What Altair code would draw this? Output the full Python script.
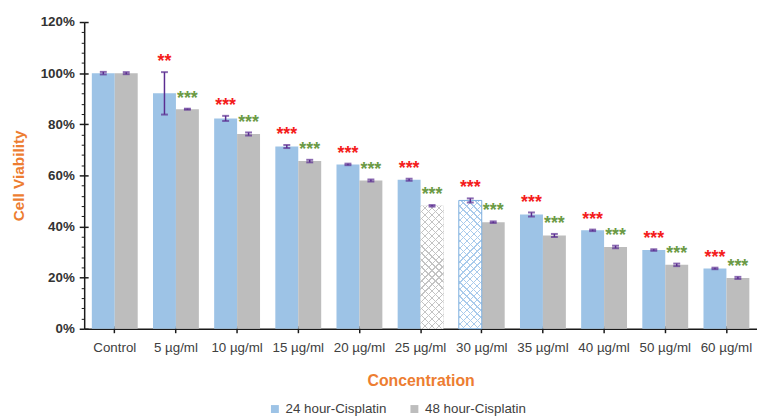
import math
import altair as alt
import pandas as pd

CATS = ["Control", "5 µg/ml", "10 µg/ml", "15 µg/ml", "20 µg/ml", "25 µg/ml",
        "30 µg/ml", "35 µg/ml", "40 µg/ml", "50 µg/ml", "60 µg/ml"]
SERIES = ["24 hour-Cisplatin", "48 hour-Cisplatin"]
V24 = [100.0, 92.1, 82.3, 71.3, 64.3, 58.3, 50.2, 44.7, 38.5, 30.8, 23.6]
E24 = [0.5, 8.3, 1.0, 0.6, 0.3, 0.4, 0.8, 0.8, 0.3, 0.3, 0.3]
V48 = [100.0, 85.9, 76.2, 65.6, 58.0, 48.1, 41.7, 36.5, 32.0, 25.0, 19.9]
E48 = [0.4, 0.2, 0.6, 0.5, 0.4, 0.3, 0.3, 0.6, 0.5, 0.5, 0.4]
S24 = ["", "**", "***", "***", "***", "***", "***", "***", "***", "***", "***"]
S48 = ["", "***", "***", "***", "***", "***", "***", "***", "***", "***", "***"]
Y_TICKS = list(range(0, 121, 20))

rows = []
for i, c in enumerate(CATS):
    for s, v, e, st in ((SERIES[0], V24[i], E24[i], S24[i]), (SERIES[1], V48[i], E48[i], S48[i])):
        rows.append({"cat": c, "series": s, "value": v, "err": e,
                     "lo": v - e, "hi": v + e, "star": st})
df = pd.DataFrame(rows)

W, H, YMAX = 680, 310, 120
STEP = W / 11.0
BW = STEP * 0.75 / 2
BLUE, GRAY = "#9dc3e6", "#bdbdbd"
PURPLE = "#5b2d91"
AXC = "#1a1a1a"
FONT = "Liberation Sans"


def stripes(h, w, direction, bg, lc, period=7.0, frac=0.18):
    k = (w + h) / (w * w + h * h)
    dx, dy = k * w, k * h
    if direction == "/":
        x1, y1, x2, y2 = 0, 0, dx, dy
    else:
        x1, y1, x2, y2 = 1, 0, 1 - dx, dy
    P = period / (w + h)
    d = frac * P / 2
    stops = [{"offset": 0, "color": bg}]
    n = int(math.ceil(1 / P)) + 1
    last = 0.0
    for j in range(n + 1):
        a = max(last, min(1.0, j * P - d))
        b = max(a, min(1.0, j * P + d))
        stops += [{"offset": a, "color": bg}, {"offset": a, "color": lc},
                  {"offset": b, "color": lc}, {"offset": b, "color": bg}]
        last = b
    stops.append({"offset": 1, "color": bg})
    return {"gradient": "linear", "x1": x1, "y1": y1, "x2": x2, "y2": y2, "stops": stops}


xsc = alt.Scale(domain=CATS, paddingInner=0.25, paddingOuter=0.125)
osc = alt.Scale(domain=SERIES, paddingInner=0, paddingOuter=0)
ysc = alt.Scale(domain=[0, YMAX], nice=False, zero=True)

X_MAIN = alt.X("cat:N", scale=xsc, sort=CATS, title="Concentration",
               axis=alt.Axis(labelAngle=0, labelFont=FONT, labelFontSize=13.5, labelColor="#404040",
                             labelPadding=8, tickSize=4, tickColor=AXC, tickWidth=1.5,
                             domainColor=AXC, domainWidth=1.5, grid=False,
                             titleFont=FONT, titleFontSize=16, titleFontWeight="bold",
                             titleColor="#ed7d31", titlePadding=19))
Y_MAIN = alt.Y("value:Q", scale=ysc, title="Cell Viability",
               axis=alt.Axis(values=list(range(0, 121, 4)),
                             labelExpr="datum.value % 20 === 0 ? datum.value + '%' : ''",
                             labelOverlap=False,
                             tickSize={"condition": {"test": "datum.value % 20 === 0", "value": 5}, "value": 3},
                             tickWidth={"condition": {"test": "datum.value % 20 === 0", "value": 1.5}, "value": 1},
                             tickColor=AXC, domainColor=AXC, domainWidth=1.5, grid=False,
                             labelFont=FONT, labelFontSize=13.5, labelFontWeight="bold",
                             labelColor="#333333", labelPadding=5,
                             titleFont=FONT, titleFontSize=15.5, titleFontWeight="bold",
                             titleColor="#ed7d31", titlePadding=14))
XO = alt.XOffset("series:N", scale=osc, sort=SERIES)
X_NA = alt.X("cat:N", scale=xsc, sort=CATS, axis=None)

bars = alt.Chart(df).mark_bar().encode(
    x=X_MAIN, xOffset=XO, y=Y_MAIN,
    color=alt.Color("series:N", scale=alt.Scale(domain=SERIES, range=[BLUE, GRAY]),
                    legend=alt.Legend(title=None, orient="none", legendX=186, legendY=384,
                                      direction="horizontal", symbolType="square", symbolSize=64,
                                      symbolStrokeWidth=0, labelFont=FONT, labelFontSize=13.5,
                                      labelColor="#404040", columnPadding=21, labelOffset=4)),
)

layers = [bars]
HATCH = [("25 µg/ml", SERIES[1], V48[5], "#c4c4c4", None),
         ("30 µg/ml", SERIES[0], V24[6], "#a9cbec", "#7fb0e0")]
for cat, ser, val, lc, stroke in HATCH:
    h = val / YMAX * H
    sel = alt.Chart(df).transform_filter(
        (alt.datum.cat == cat) & (alt.datum.series == ser))
    enc = dict(x=X_NA, xOffset=XO, y=alt.Y("value:Q", scale=ysc, axis=None))
    layers.append(sel.mark_bar(fill=stripes(h, BW, "/", "#ffffff", lc)).encode(**enc))
    kw = {}
    if stroke:
        kw = {"stroke": stroke, "strokeWidth": 1}
    layers.append(sel.mark_bar(fill=stripes(h, BW, "\\", "rgba(255,255,255,0)", lc), **kw).encode(**enc))

err = alt.Chart(df).mark_rule(color=PURPLE, strokeWidth=1.5).encode(
    x=alt.X("cat:N", scale=xsc, sort=CATS,
            axis=alt.Axis(orient="top", offset=-H, labels=False, domain=False, tickSize=3,
                          tickColor=AXC, tickWidth=1.5, title=None, grid=False)),
    xOffset=XO,
    y=alt.Y("lo:Q", scale=ysc,
            axis=alt.Axis(orient="right", offset=-W, values=Y_TICKS, labels=False, domain=False,
                          tickSize=4, tickColor=AXC, tickWidth=1.5, title=None, grid=False)),
    y2="hi:Q",
)
layers.append(err)
for f in ("lo", "hi"):
    layers.append(alt.Chart(df).mark_tick(color=PURPLE, size=7, thickness=2).encode(
        x=X_NA, xOffset=XO, y=alt.Y(f + ":Q", scale=ysc, axis=None)))

for ser, col in ((SERIES[0], "#f41c1c"), (SERIES[1], "#6b9a45")):
    layers.append(alt.Chart(df).transform_filter(alt.datum.series == ser).mark_text(
        color=col, fontSize=18, fontWeight="bold", font=FONT, baseline="alphabetic",
        align="center", dy=-5).encode(
        x=X_NA, xOffset=XO, y=alt.Y("hi:Q", scale=ysc, axis=None), text="star:N"))

chart = alt.layer(*layers).resolve_axis(x="independent", y="independent").properties(
    width=W, height=H,
    autosize=alt.AutoSizeParams(type="none"),
    padding={"left": 77, "top": 12, "right": 0, "bottom": 87},
    background="#ffffff",
).configure_view(strokeWidth=0)

chart.save("out.html", embed_options={"renderer": "svg", "actions": False})
